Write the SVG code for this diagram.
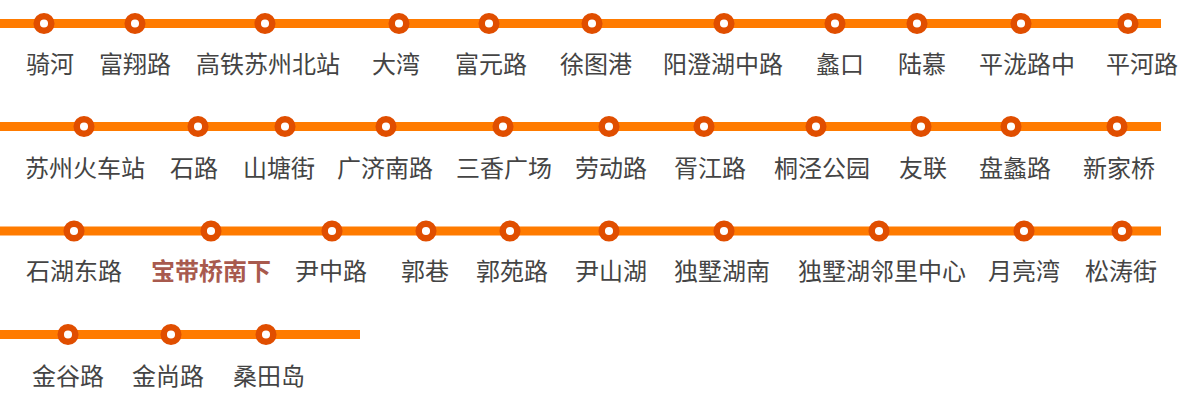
<svg xmlns="http://www.w3.org/2000/svg" width="1200" height="405" viewBox="0 0 1200 405">
<style>
.ln{stroke:#FF7B00;stroke-width:9;fill:none}
.st{fill:#fff;stroke:#E04E00;stroke-width:6.5}
.lb{font-family:"Noto Sans CJK SC","Microsoft YaHei",sans-serif;font-size:24px;fill:#444;text-anchor:middle}
.hl{fill:#A85A4E;font-weight:bold}
</style>
<rect width="1200" height="405" fill="#fff"/>
<g id="connectors">
<line class="ln" x1="0" y1="23.5" x2="1161" y2="23.5"/>
<line class="ln" x1="0" y1="126.5" x2="1161" y2="126.5"/>
<line class="ln" x1="0" y1="231" x2="1161" y2="231"/>
<line class="ln" x1="0" y1="334.5" x2="360" y2="334.5"/>
</g>
<g id="row1">
<g id="s-qihe"><circle class="st" cx="44" cy="23.5" r="7.3"/><text class="lb" x="50" y="73">骑河</text></g>
<g id="s-fuxianglu"><circle class="st" cx="135" cy="23.5" r="7.3"/><text class="lb" x="135" y="73">富翔路</text></g>
<g id="s-gaotie"><circle class="st" cx="265" cy="23.5" r="7.3"/><text class="lb" x="268" y="73">高铁苏州北站</text></g>
<g id="s-dawan"><circle class="st" cx="399" cy="23.5" r="7.3"/><text class="lb" x="396" y="73">大湾</text></g>
<g id="s-fuyuanlu"><circle class="st" cx="489" cy="23.5" r="7.3"/><text class="lb" x="491" y="73">富元路</text></g>
<g id="s-xutugang"><circle class="st" cx="592" cy="23.5" r="7.3"/><text class="lb" x="596" y="73">徐图港</text></g>
<g id="s-yangchenghu"><circle class="st" cx="724" cy="23.5" r="7.3"/><text class="lb" x="723" y="73">阳澄湖中路</text></g>
<g id="s-likou"><circle class="st" cx="835" cy="23.5" r="7.3"/><text class="lb" x="840" y="73">蠡口</text></g>
<g id="s-lumu"><circle class="st" cx="917" cy="23.5" r="7.3"/><text class="lb" x="922" y="73">陆慕</text></g>
<g id="s-pinglonglu"><circle class="st" cx="1021" cy="23.5" r="7.3"/><text class="lb" x="1027" y="73">平泷路中</text></g>
<g id="s-pinghelu"><circle class="st" cx="1128" cy="23.5" r="7.3"/><text class="lb" x="1142" y="73">平河路</text></g>
</g>
<g id="row2">
<g id="s-suzhouzhan"><circle class="st" cx="84" cy="126.5" r="7.3"/><text class="lb" x="85" y="177">苏州火车站</text></g>
<g id="s-shilu"><circle class="st" cx="198" cy="126.5" r="7.3"/><text class="lb" x="194" y="177">石路</text></g>
<g id="s-shantangjie"><circle class="st" cx="285" cy="126.5" r="7.3"/><text class="lb" x="279" y="177">山塘街</text></g>
<g id="s-guangjinanlu"><circle class="st" cx="386" cy="126.5" r="7.3"/><text class="lb" x="385" y="177">广济南路</text></g>
<g id="s-sanxiang"><circle class="st" cx="503" cy="126.5" r="7.3"/><text class="lb" x="504" y="177">三香广场</text></g>
<g id="s-laodonglu"><circle class="st" cx="609" cy="126.5" r="7.3"/><text class="lb" x="611" y="177">劳动路</text></g>
<g id="s-xujianglu"><circle class="st" cx="704" cy="126.5" r="7.3"/><text class="lb" x="710" y="177">胥江路</text></g>
<g id="s-tongjing"><circle class="st" cx="816" cy="126.5" r="7.3"/><text class="lb" x="822" y="177">桐泾公园</text></g>
<g id="s-youlian"><circle class="st" cx="921" cy="126.5" r="7.3"/><text class="lb" x="923" y="177">友联</text></g>
<g id="s-panlilu"><circle class="st" cx="1011" cy="126.5" r="7.3"/><text class="lb" x="1015" y="177">盘蠡路</text></g>
<g id="s-xinjiaqiao"><circle class="st" cx="1117" cy="126.5" r="7.3"/><text class="lb" x="1119" y="177">新家桥</text></g>
</g>
<g id="row3">
<g id="s-shihudonglu"><circle class="st" cx="74" cy="231" r="7.3"/><text class="lb" x="74" y="280">石湖东路</text></g>
<g id="s-baodaiqiao"><circle class="st" cx="211" cy="231" r="7.3"/><text class="lb hl" x="211" y="280">宝带桥南下</text></g>
<g id="s-yinzhonglu"><circle class="st" cx="332" cy="231" r="7.3"/><text class="lb" x="331" y="280">尹中路</text></g>
<g id="s-guoxiang"><circle class="st" cx="426" cy="231" r="7.3"/><text class="lb" x="425" y="280">郭巷</text></g>
<g id="s-guoyuanlu"><circle class="st" cx="510" cy="231" r="7.3"/><text class="lb" x="512" y="280">郭苑路</text></g>
<g id="s-yinshanhu"><circle class="st" cx="609" cy="231" r="7.3"/><text class="lb" x="611" y="280">尹山湖</text></g>
<g id="s-dushuhunan"><circle class="st" cx="724" cy="231" r="7.3"/><text class="lb" x="722" y="280">独墅湖南</text></g>
<g id="s-dushuhulinli"><circle class="st" cx="879" cy="231" r="7.3"/><text class="lb" x="882" y="280">独墅湖邻里中心</text></g>
<g id="s-yueliangwan"><circle class="st" cx="1024" cy="231" r="7.3"/><text class="lb" x="1024" y="280">月亮湾</text></g>
<g id="s-songtaojie"><circle class="st" cx="1122" cy="231" r="7.3"/><text class="lb" x="1121" y="280">松涛街</text></g>
</g>
<g id="row4">
<g id="s-jingulu"><circle class="st" cx="68" cy="334.5" r="7.3"/><text class="lb" x="68" y="385">金谷路</text></g>
<g id="s-jinshanglu"><circle class="st" cx="171" cy="334.5" r="7.3"/><text class="lb" x="168" y="385">金尚路</text></g>
<g id="s-sangtiandao"><circle class="st" cx="266" cy="334.5" r="7.3"/><text class="lb" x="269" y="385">桑田岛</text></g>
</g>
</svg>
